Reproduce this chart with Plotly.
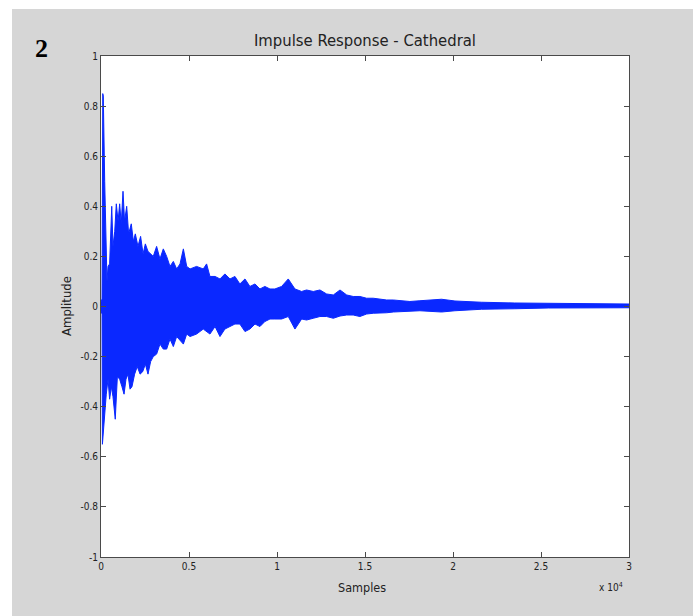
import plotly.graph_objects as go

# Upper envelope of the impulse response (sample index, amplitude)
up_x = [0, 60, 100, 130, 210, 265, 340, 400, 490, 610, 680, 780, 870, 970, 1060, 1150, 1250, 1340,
        1460, 1570, 1720, 1840, 1950, 2100, 2250, 2390, 2520, 2670, 2820, 2970, 3160, 3350, 3540,
        3730, 3920, 4110, 4300, 4490, 4680, 4870, 5060, 5430, 5810, 6000, 6190, 6480, 6760, 7040,
        7330, 7610, 7890, 8180, 8460, 8750, 9030, 9310, 9600, 9880, 10260, 10640, 11020, 11400,
        11680, 12060, 12440, 12820, 13200, 13580, 13960, 14330, 14710, 15090, 15470, 15850, 16230,
        16610, 16980, 17550, 18120, 19350, 20110, 21620, 23510, 25410, 27300, 29200, 30000]
up_y = [0.02, 0.03, 0.85, 0.84, 0.50, 0.26, 0.10, 0.16, 0.17, 0.40, 0.24, 0.30, 0.41, 0.34, 0.41,
        0.33, 0.46, 0.34, 0.40, 0.29, 0.33, 0.26, 0.29, 0.24, 0.28, 0.21, 0.25, 0.22, 0.21, 0.20,
        0.24, 0.19, 0.23, 0.20, 0.16, 0.18, 0.15, 0.17, 0.23, 0.16, 0.15, 0.16, 0.15, 0.17, 0.12,
        0.12, 0.11, 0.13, 0.11, 0.12, 0.09, 0.11, 0.08, 0.09, 0.07, 0.08, 0.07, 0.07, 0.08, 0.11,
        0.07, 0.06, 0.066, 0.06, 0.066, 0.05, 0.046, 0.066, 0.046, 0.04, 0.04, 0.033, 0.033, 0.03,
        0.026, 0.026, 0.023, 0.02, 0.023, 0.029, 0.022, 0.017, 0.014, 0.013, 0.011, 0.01, 0.01]

# Lower envelope
lo_x = [0, 60, 80, 110, 210, 300, 400, 490, 590, 680, 810, 930, 1060, 1190, 1310, 1420, 1530, 1650,
        1760, 1910, 2060, 2220, 2370, 2520, 2670, 2820, 2970, 3160, 3350, 3540, 3730, 3920, 4110,
        4300, 4680, 4870, 5060, 5430, 5810, 6190, 6480, 6760, 7040, 7330, 7610, 7890, 8180, 8460,
        8750, 9030, 9310, 9600, 9880, 10260, 10640, 11020, 11400, 11680, 12060, 12440, 12820,
        13200, 13580, 13960, 14330, 14710, 15090, 15470, 15850, 16230, 16610, 16980, 17550, 18120,
        19350, 20110, 21620, 23510, 25410, 27300, 29200, 30000]
lo_y = [-0.02, -0.03, -0.55, -0.54, -0.44, -0.35, -0.29, -0.37, -0.32, -0.36, -0.45, -0.28, -0.29,
        -0.32, -0.35, -0.29, -0.27, -0.33, -0.32, -0.27, -0.24, -0.27, -0.26, -0.23, -0.27, -0.22,
        -0.20, -0.19, -0.15, -0.17, -0.17, -0.13, -0.16, -0.12, -0.15, -0.11, -0.12, -0.11, -0.09,
        -0.11, -0.08, -0.12, -0.09, -0.08, -0.07, -0.07, -0.10, -0.09, -0.07, -0.08, -0.06, -0.05,
        -0.05, -0.05, -0.04, -0.09, -0.05, -0.054, -0.047, -0.04, -0.04, -0.047, -0.038, -0.034,
        -0.034, -0.04, -0.03, -0.027, -0.025, -0.025, -0.022, -0.02, -0.018, -0.017, -0.022,
        -0.017, -0.011, -0.009, -0.006, -0.005, -0.005, -0.005]

x_tickvals = [0, 5000, 10000, 15000, 20000, 25000, 30000]
x_ticktext = ["0", "0.5", "1", "1.5", "2", "2.5", "3"]
y_tickvals = [-1, -0.8, -0.6, -0.4, -0.2, 0, 0.2, 0.4, 0.6, 0.8, 1]
y_ticktext = ["-1", "-0.8", "-0.6", "-0.4", "-0.2", "0", "0.2", "0.4", "0.6", "0.8", "1"]

BLUE = "rgb(10,40,255)"
NARROW = "DejaVu Sans Condensed, Liberation Sans Narrow, Liberation Sans, Arial, sans-serif"
AX = "#4a4a4a"

W, H = 699, 616
L, R, T, B = 101, 70, 56, 59
pw, ph = W - L - R, H - T - B

def px(x):
    return (x - L) / pw

def py(y):
    return (H - B - y) / ph

fig = go.Figure()
fig.add_trace(go.Scatter(
    x=up_x + lo_x[::-1], y=up_y + lo_y[::-1],
    mode="lines", fill="toself", fillcolor=BLUE,
    line=dict(color=BLUE, width=1), hoverinfo="skip", showlegend=False))

axis_common = dict(showline=True, linecolor=AX, linewidth=1, mirror="ticks",
                   ticks="inside", ticklen=5, tickcolor=AX, tickwidth=1,
                   showgrid=False, zeroline=False,
                   tickfont=dict(family=NARROW, size=10, color="#222"))

fig.update_xaxes(range=[0, 30000], tickvals=x_tickvals, ticktext=x_ticktext, **axis_common)
fig.update_yaxes(range=[-1, 1], tickvals=y_tickvals, ticktext=y_ticktext, **axis_common)

shapes = [
    dict(type="rect", xref="paper", yref="paper", x0=px(0), x1=px(W), y0=py(9), y1=py(0),
         fillcolor="white", line=dict(width=0), layer="below"),
    dict(type="rect", xref="paper", yref="paper", x0=px(0), x1=px(12), y0=py(H), y1=py(0),
         fillcolor="white", line=dict(width=0), layer="below"),
    dict(type="rect", xref="paper", yref="paper", x0=px(693), x1=px(W), y0=py(H), y1=py(0),
         fillcolor="white", line=dict(width=0), layer="below"),
]

annotations = [
    dict(text="<b>2</b>", x=px(41), y=py(48), xref="paper", yref="paper", showarrow=False,
         font=dict(family="Liberation Serif, DejaVu Serif, serif", size=26, color="black"),
         xanchor="center", yanchor="middle"),
    dict(text="Impulse Response - Cathedral", x=px(365), y=py(40), xref="paper", yref="paper",
         showarrow=False, font=dict(family=NARROW, size=16.5, color="#222"),
         xanchor="center", yanchor="middle"),
    dict(text="Amplitude", x=px(66), y=py(306), xref="paper", yref="paper", showarrow=False,
         textangle=-90, font=dict(family=NARROW, size=13, color="#222"),
         xanchor="center", yanchor="middle"),
    dict(text="Samples", x=px(362), y=py(587), xref="paper", yref="paper", showarrow=False,
         font=dict(family=NARROW, size=12.5, color="#222"), xanchor="center", yanchor="middle"),
    dict(text="x 10<sup>4</sup>", x=px(611), y=py(587), xref="paper", yref="paper",
         showarrow=False, font=dict(family=NARROW, size=10, color="#222"),
         xanchor="center", yanchor="middle"),
]

fig.update_layout(
    width=W, height=H, margin=dict(l=L, r=R, t=T, b=B),
    paper_bgcolor="#d6d6d6", plot_bgcolor="white",
    shapes=shapes, annotations=annotations, showlegend=False)

fig.write_html("out.html", config={"displayModeBar": False},
               post_script="document.body.style.margin='0';")
